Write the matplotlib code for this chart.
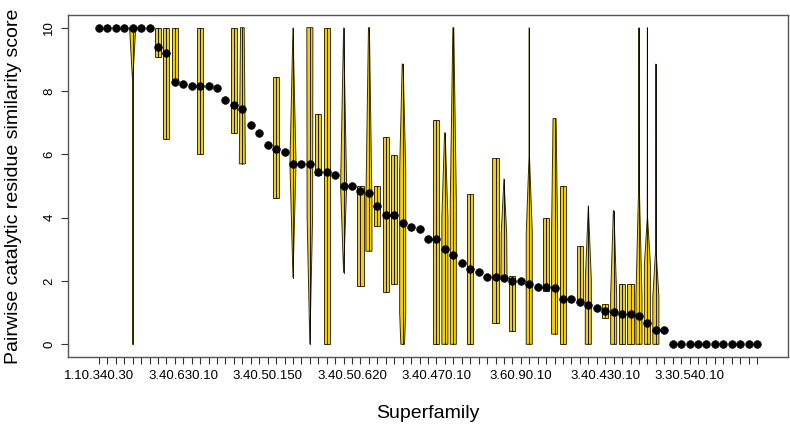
import numpy as np
import matplotlib
matplotlib.use('Agg')
import matplotlib.pyplot as plt
from matplotlib.patches import Polygon

plt.rcParams['font.family'] = ['Liberation Sans', 'DejaVu Sans']

# ---------------- data ----------------
# median similarity score for each of the 79 superfamilies (in plot order)
medians = [10, 10, 10, 10, 10, 10, 10, 9.4, 9.2, 8.28,
           8.22, 8.17, 8.17, 8.15, 8.11, 7.72, 7.56, 7.43, 6.94, 6.67,
           6.31, 6.18, 6.06, 5.71, 5.71, 5.71, 5.45, 5.45, 5.36, 4.99,
           4.99, 4.83, 4.77, 4.36, 4.10, 4.10, 3.84, 3.69, 3.63, 3.32,
           3.32, 3.00, 2.81, 2.56, 2.38, 2.27, 2.13, 2.12, 2.10, 2.00,
           2.00, 1.90, 1.82, 1.82, 1.77, 1.44, 1.43, 1.33, 1.25, 1.16,
           1.04, 1.01, 0.96, 0.96, 0.90, 0.67, 0.44, 0.44, 0, 0,
           0, 0, 0, 0, 0, 0, 0, 0, 0]

# violin density profiles: category index -> [(score, relative density), ...]
violin_profiles = {
    5:  [(0, 0.02), (8.3, 0.02), (10, 1)],
    8:  [(9.07, 1), (10, 1)],
    9:  [(6.49, 1), (10, 1)],
    10: [(8.28, 1), (10, 1)],
    13: [(6.0, 1), (10, 1)],
    17: [(6.67, 1), (10, 1)],
    18: [(5.7, 1), (10, 0.6)],
    22: [(4.63, 1), (8.44, 1)],
    24: [(2.1, 0), (5.71, 1), (10, 0)],
    26: [(0, 0), (4.0, 0.9), (10, 1)],
    27: [(5.36, 1), (7.28, 1)],
    28: [(0, 1), (10, 1)],
    30: [(2.26, 0), (5.0, 1), (10, 0)],
    32: [(1.84, 1), (4.99, 1)],
    33: [(2.94, 1), (4.5, 1), (10, 0.15)],
    34: [(3.75, 1), (4.99, 1)],
    35: [(1.65, 1), (6.54, 1)],
    36: [(1.91, 1), (5.99, 1)],
    37: [(0, 0.6), (1.0, 1), (5.5, 1), (8.85, 0.15)],
    41: [(0, 1), (7.07, 1)],
    42: [(0, 1), (4.0, 1), (6.68, 0.1)],
    43: [(0, 1), (4.5, 1), (10, 0.15)],
    45: [(0, 1), (4.75, 1)],
    48: [(0.68, 1), (5.89, 1)],
    49: [(2.16, 1), (3.5, 0.9), (5.23, 0)],
    50: [(0.42, 1), (2.16, 1)],
    52: [(0, 1), (3.5, 1), (6.0, 0.05), (10, 0)],
    54: [(1.68, 1), (4.0, 1)],
    55: [(0.32, 1), (3.5, 1), (7.13, 0.5)],
    56: [(0, 1), (4.99, 1)],
    58: [(1.3, 1), (3.12, 1)],
    59: [(0, 1), (2.0, 1), (4.38, 0)],
    61: [(0.84, 1), (1.26, 1)],
    62: [(0, 1), (1.5, 1), (4.22, 0.1)],
    63: [(0, 1), (1.91, 1)],
    64: [(0, 1), (1.91, 1)],
    65: [(0, 1), (1.5, 1), (5.0, 0.1), (10, 0)],
    66: [(0, 1), (2.5, 1), (4.0, 0.05), (10, 0.02)],
    67: [(0, 1), (1.5, 1), (3.0, 0.05), (8.85, 0.02)],
}

label_idx = [1, 11, 21, 31, 41, 51, 61, 71]
label_names = ['1.10.340.30', '3.40.630.10', '3.40.50.150', '3.40.50.620',
               '3.40.470.10', '3.60.90.10', '3.40.430.10', '3.30.540.10']

# ---------------- figure ----------------
n = len(medians)
x = np.arange(1, n + 1)

fig = plt.figure(figsize=(7.9, 4.26), dpi=100)
ax = fig.add_axes([68 / 790, 1 - 357 / 426, 720 / 790, 342 / 426])

HALF = 0.36
FILL = '#F2CD14'
EDGE = '#3a3000'

for k, prof in violin_profiles.items():
    ys = [p[0] for p in prof]
    ws = [p[1] * HALF for p in prof]
    right = [(k + w, y) for y, w in zip(ys, ws)]
    left = [(k - w, y) for y, w in zip(ys[::-1], ws[::-1])]
    poly = Polygon(right + left, closed=True, facecolor=FILL,
                   edgecolor=EDGE, linewidth=0.7, zorder=2)
    ax.add_patch(poly)
    ax.plot([k, k], [min(ys), max(ys)], color='black', lw=0.6, zorder=3)

ax.plot(x, medians, 'o', color='black', ms=5.6, mew=0.4, zorder=5)

ax.set_xlim(0.5 - 0.04 * n, n + 0.5 + 0.04 * n)
ax.set_ylim(-0.4, 10.4)

labels = [''] * n
for i, name in zip(label_idx, label_names):
    labels[i - 1] = name
ax.set_xticks(x)
ax.set_xticklabels(labels)
ax.set_yticks([0, 2, 4, 6, 8, 10])
ax.set_yticklabels(['0', '2', '4', '6', '8', '10'], rotation=90, va='center')

ax.tick_params(axis='x', length=5.2, width=0.8, color='#333333', pad=4,
               labelsize=9.5)
ax.tick_params(axis='y', length=5.2, width=0.8, color='#333333', pad=4,
               labelsize=9.5)

for s in ax.spines.values():
    s.set_color('#555555')
    s.set_linewidth(1.0)

ax.set_xlabel('Superfamily', fontsize=14)
ax.xaxis.label.set_va('center')
ax.xaxis.set_label_coords(0.5, (357 - 413) / 342)
ax.set_ylabel('Pairwise catalytic residue similarity score', fontsize=14)
ax.yaxis.label.set_va('center')
ax.yaxis.set_label_coords((14 - 68) / 720, 0.5)

fig.savefig('out.png', dpi=100)
